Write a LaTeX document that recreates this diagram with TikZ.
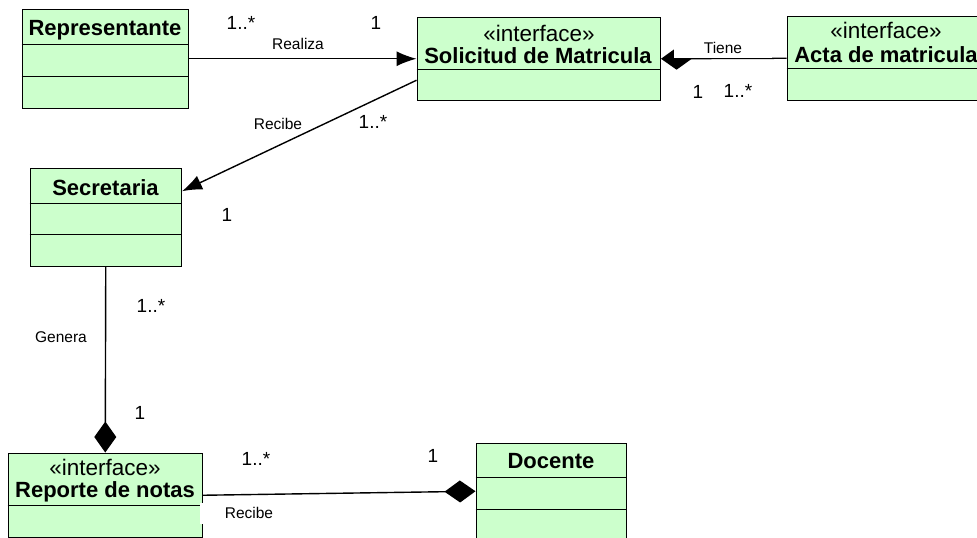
\documentclass[tikz,border=0pt]{standalone}
\usepackage{fontspec}
\setmainfont{Liberation Sans}
\usetikzlibrary{arrows.meta,calc}
\definecolor{classfill}{HTML}{CCFFCC}
\tikzset{
  x=1pt,y=-1pt,
  classbox/.style={draw=black,fill=classfill,line width=1.5pt,inner sep=0pt,anchor=north west},
  sep/.style={draw=black,line width=1.4pt},
  title/.style={font=\fontsize{22}{24}\selectfont\bfseries,inner sep=0pt,anchor=center},
  stereo/.style={font=\fontsize{22.5}{24}\selectfont,inner sep=0pt,anchor=center},
  mult/.style={font=\fontsize{19}{21}\selectfont,inner sep=0pt,anchor=center},
  small/.style={font=\fontsize{15.5}{17}\selectfont,inner sep=0pt,anchor=center},
  conn/.style={draw=black,line width=1.4pt},
  solidarrow/.style={-{Latex[length=20pt,width=15pt]}},
  comp/.style={-{Diamond[length=31pt,width=22pt]}},
  cover/.style={fill=white,inner sep=0pt,anchor=north west}
}
\begin{document}
\begin{tikzpicture}
\useasboundingbox (0,0) rectangle (977,538);
\clip (0,0) rectangle (977,538);
% classes
\node[classbox,minimum width=166pt,minimum height=99pt] (rep) at (21.5,8.5) {};
\node[classbox,minimum width=151pt,minimum height=98pt] (sec) at (29.5,167.5) {};
\node[classbox,minimum width=243pt,minimum height=83pt] (sol) at (416.5,16.5) {};
\node[classbox,minimum width=215pt,minimum height=84pt] (act) at (786.5,15.5) {};
\node[classbox,minimum width=194pt,minimum height=84pt] (rn) at (7.5,452.5) {};
\node[classbox,minimum width=150pt,minimum height=120pt] (doc) at (475.5,442.5) {};
% compartments
\draw[sep] (21.5,44.5) -- (187.5,44.5) (21.5,76.5) -- (187.5,76.5);
\draw[sep] (29.5,203.5) -- (180.5,203.5) (29.5,234.5) -- (180.5,234.5);
\draw[sep] (416.5,69.5) -- (659.5,69.5);
\draw[sep] (786.5,68.5) -- (985,68.5);
\draw[sep] (7.5,505.5) -- (201.5,505.5);
\draw[sep] (475.5,477.5) -- (625.5,477.5) (475.5,509.5) -- (625.5,509.5);
% connectors
\draw[conn,solidarrow] (rep.east) -- (sol.west);
\draw[conn,solidarrow] ([yshift=-21.5pt]sol.west) -- ([yshift=26pt]sec.east);
\draw[conn,comp] (sec.south) -- (rn.north);
\draw[conn,comp] (rn.east) -- ([yshift=12pt]doc.west);
\draw[conn,comp] (act.west) -- (sol.east);
% label covers
\node[cover,minimum width=98pt,minimum height=18.2pt] (tc) at (674,40) {};
\node[cover,minimum width=46pt,minimum height=21pt] (rc) at (200,502.5) {};
% texts
\node[title] (t1) at (105,30) {Representante};
\node[title] (t2) at (105.5,187.5) {Secretaria};
\node[stereo] (s3) at (539,33) {«interface»};
\node[title] (t3) at (538,56) {Solicitud de Matricula};
\node[stereo] (s4) at (886,30) {«interface»};
\node[title] (t4) at (886,55) {Acta de matricula};
\node[stereo] (s5) at (105,467) {«interface»};
\node[title] (t5) at (105,492) {Reporte de notas};
\node[title] (t6) at (551,461.5) {Docente};
% multiplicities
\node[mult] (m1) at (241,23) {1..*};
\node[mult] (m2) at (376,23) {1};
\node[mult] (m3) at (373,122) {1..*};
\node[mult] (m4) at (227,215) {1};
\node[mult] (m5) at (698,92) {1};
\node[mult] (m6) at (738,91) {1..*};
\node[mult] (m7) at (151,306) {1..*};
\node[mult] (m8) at (140,413) {1};
\node[mult] (m9) at (256,459) {1..*};
\node[mult] (m10) at (433,456) {1};
% association names
\node[small] (l1) at (298,44) {Realiza};
\node[small] (l2) at (278,124) {Recibe};
\node[small] (l3) at (723,48) {Tiene};
\node[small] (l4) at (61,337) {Genera};
\node[small] (l5) at (249,513) {Recibe};
\end{tikzpicture}
\end{document}
